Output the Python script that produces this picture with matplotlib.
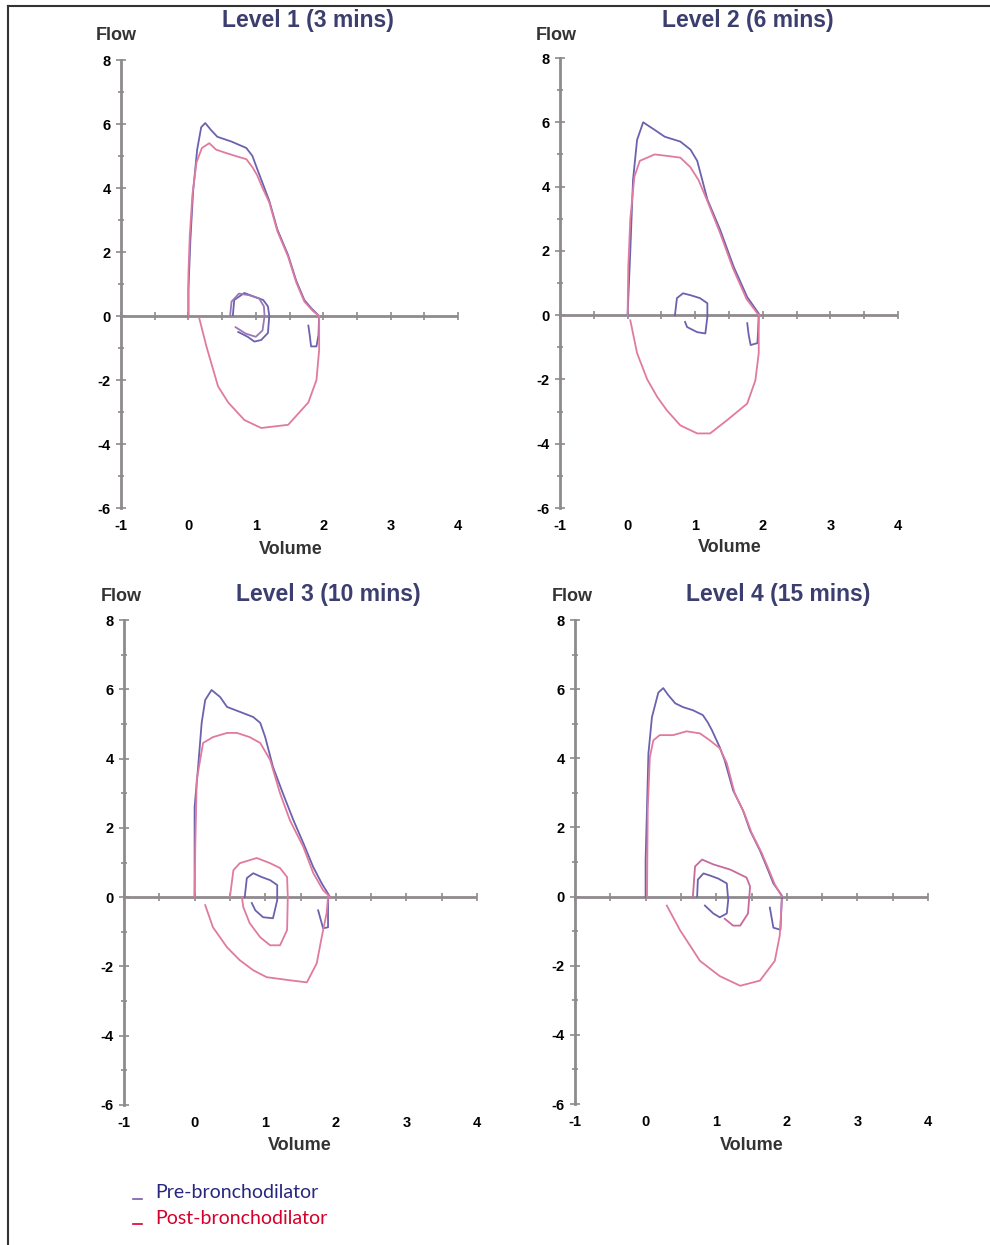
import numpy as np
import matplotlib
matplotlib.use("Agg")
import matplotlib.pyplot as plt
from matplotlib.lines import Line2D

plt.rcParams['axes.unicode_minus'] = False

# ---- data (volume, flow) ----
titles = ["Level 1 (3 mins)", "Level 2 (6 mins)", "Level 3 (10 mins)", "Level 4 (15 mins)"]

# level 1
l1_pre_x = [0, 0, 0.03, 0.07, 0.13, 0.19, 0.25, 0.34, 0.43, 0.64, 0.86, 0.95, 1.02, 1.11, 1.2, 1.32, 1.48, 1.6, 1.72, 1.82, 1.94,
            1.93, 1.9, 1.82, 1.8, 1.78]
l1_pre_y = [0, 0.81, 2.4, 3.9, 5.2, 5.9, 6.03, 5.8, 5.6, 5.45, 5.25, 5.0, 4.6, 4.1, 3.6, 2.7, 1.9, 1.1, 0.5, 0.25, 0,
            -0.6, -0.95, -0.95, -0.6, -0.3]
l1_post_x = [0, 0, 0.02, 0.06, 0.12, 0.2, 0.31, 0.41, 0.55, 0.7, 0.86, 0.95, 1.02, 1.1, 1.2, 1.32, 1.48, 1.6, 1.72, 1.85, 1.94]
l1_post_y = [0, 1.3, 2.5, 3.8, 4.8, 5.25, 5.4, 5.2, 5.1, 5.0, 4.9, 4.65, 4.4, 4.0, 3.55, 2.65, 1.85, 1.05, 0.45, 0.15, 0]
l1_insp_x = [0.16, 0.27, 0.44, 0.59, 0.83, 1.08, 1.48, 1.78, 1.9, 1.94, 1.94]
l1_insp_y = [-0.06, -0.97, -2.2, -2.7, -3.25, -3.5, -3.4, -2.7, -2.0, -1.06, 0]
l1_tid_pre_x = [0.66, 0.68, 0.83, 0.98, 1.11, 1.18, 1.2, 1.18, 1.08, 0.98, 0.88, 0.74]
l1_tid_pre_y = [0.03, 0.5, 0.72, 0.6, 0.5, 0.3, 0, -0.53, -0.75, -0.8, -0.65, -0.5]
l1_tid_post_x = [0.62, 0.64, 0.75, 0.9, 1.05, 1.12, 1.13, 1.1, 1.0, 0.85, 0.7]
l1_tid_post_y = [0.03, 0.45, 0.7, 0.65, 0.55, 0.3, 0, -0.45, -0.65, -0.55, -0.35]

# level 2
l2_pre_x = [0, 0.02, 0.04, 0.08, 0.14, 0.23, 0.41, 0.55, 0.78, 0.93, 1.03, 1.18, 1.37, 1.57, 1.77, 1.94, 1.94,
            1.93, 1.92, 1.82, 1.79, 1.77]
l2_pre_y = [0, 1.0, 2.0, 4.2, 5.45, 6.0, 5.75, 5.55, 5.4, 5.15, 4.8, 3.6, 2.65, 1.5, 0.56, 0.05, 0,
            -0.5, -0.87, -0.93, -0.6, -0.25]
l2_post_x = [0, 0.01, 0.04, 0.1, 0.18, 0.4, 0.6, 0.78, 0.93, 1.05, 1.18, 1.36, 1.56, 1.76, 1.94]
l2_post_y = [0, 1.5, 3.0, 4.3, 4.8, 5.0, 4.95, 4.9, 4.6, 4.2, 3.55, 2.6, 1.45, 0.5, 0]
l2_insp_x = [0.04, 0.14, 0.29, 0.44, 0.58, 0.78, 1.03, 1.22, 1.47, 1.77, 1.89, 1.94, 1.94]
l2_insp_y = [-0.16, -1.18, -2.0, -2.55, -2.96, -3.43, -3.68, -3.68, -3.27, -2.75, -2.03, -1.18, 0]
l2_tid_pre_x = [0.7, 0.73, 0.82, 0.93, 1.07, 1.18, 1.18, 1.15, 1.03, 0.88, 0.85]
l2_tid_pre_y = [0, 0.53, 0.68, 0.62, 0.53, 0.37, -0.05, -0.57, -0.53, -0.37, -0.21]
l2_tid_post_x = []
l2_tid_post_y = []

# level 3
l3_pre_x = [0, 0, 0.0, 0.05, 0.1, 0.15, 0.24, 0.36, 0.46, 0.64, 0.83, 0.93, 1.0, 1.11, 1.25, 1.4, 1.54, 1.68, 1.8, 1.92,
            1.89, 1.89, 1.82, 1.75]
l3_pre_y = [0, 1.16, 2.6, 3.76, 5.03, 5.69, 5.98, 5.78, 5.49, 5.35, 5.2, 5.03, 4.62, 3.76, 3.0, 2.22, 1.56, 0.87, 0.4, 0,
            0, -0.87, -0.9, -0.38]
l3_post_x = [0, 0.01, 0.03, 0.12, 0.26, 0.46, 0.6, 0.78, 0.93, 1.07, 1.21, 1.35, 1.54, 1.68, 1.82, 1.92]
l3_post_y = [0, 1.5, 3.38, 4.45, 4.62, 4.74, 4.74, 4.62, 4.45, 3.96, 3.0, 2.22, 1.45, 0.7, 0.2, 0]
l3_insp_x = [0.15, 0.26, 0.46, 0.64, 0.83, 1.02, 1.35, 1.59, 1.73, 1.8, 1.87, 1.89]
l3_insp_y = [-0.23, -0.87, -1.45, -1.82, -2.11, -2.31, -2.4, -2.46, -1.91, -1.16, -0.46, 0]
l3_tid_pre_x = [0.71, 0.74, 0.83, 0.95, 1.07, 1.17, 1.17, 1.11, 0.97, 0.86, 0.81]
l3_tid_pre_y = [0, 0.55, 0.69, 0.58, 0.49, 0.35, -0.09, -0.61, -0.58, -0.38, -0.17]
l3_tid_post_x = [0.5, 0.55, 0.64, 0.88, 1.07, 1.21, 1.31, 1.32, 1.31, 1.21, 1.07, 0.93, 0.78, 0.69, 0.67]
l3_tid_post_y = [0, 0.78, 0.98, 1.13, 0.98, 0.84, 0.58, 0, -0.95, -1.39, -1.39, -1.16, -0.75, -0.29, 0]

# level 4
l4_pre_x = [0, 0, 0.04, 0.09, 0.18, 0.25, 0.32, 0.42, 0.53, 0.67, 0.81, 0.88, 0.94, 1.05, 1.12, 1.24, 1.38, 1.48, 1.62,
            1.72, 1.81, 1.93, 1.93, 1.91, 1.81, 1.76]
l4_pre_y = [0, 1.05, 4.14, 5.19, 5.9, 6.03, 5.83, 5.59, 5.48, 5.39, 5.25, 5.04, 4.81, 4.32, 3.94, 3.07, 2.49, 1.91, 1.33,
            0.84, 0.38, 0.03, 0, -0.96, -0.9, -0.32]
l4_post_x = [0.02, 0.03, 0.06, 0.11, 0.2, 0.39, 0.58, 0.77, 0.91, 1.05, 1.15, 1.26, 1.4, 1.5, 1.64, 1.74, 1.83, 1.93]
l4_post_y = [0, 2.5, 4.03, 4.52, 4.67, 4.67, 4.78, 4.72, 4.52, 4.29, 3.86, 3.0, 2.4, 1.85, 1.28, 0.8, 0.35, 0]
l4_insp_x = [0.3, 0.49, 0.77, 1.05, 1.34, 1.62, 1.83, 1.9, 1.93]
l4_insp_y = [-0.26, -0.98, -1.86, -2.3, -2.58, -2.43, -1.86, -1.13, -0.1]
l4_tid_pre_x = [0.73, 0.74, 0.82, 0.91, 1.03, 1.15, 1.17, 1.15, 1.05, 0.96, 0.84]
l4_tid_pre_y = [0, 0.49, 0.67, 0.61, 0.52, 0.38, -0.1, -0.49, -0.6, -0.49, -0.26]
l4_tid_post_x = [0.67, 0.7, 0.8, 0.96, 1.2, 1.43, 1.48, 1.45, 1.34, 1.24, 1.12]
l4_tid_post_y = [0, 0.87, 1.07, 0.93, 0.78, 0.55, 0.29, -0.49, -0.84, -0.84, -0.64]

x_ticks = [-1, 0, 1, 2, 3, 4]
y_ticks = [-6, -4, -2, 0, 2, 4, 6, 8]

pre_col = '#6a62ae'
post_col = '#e07a9f'
axis_col = '#8e8a8e'
title_col = '#3b3e6e'

panels = [
    dict(pre=(l1_pre_x, l1_pre_y), post=(l1_post_x, l1_post_y), insp=(l1_insp_x, l1_insp_y),
         tpre=(l1_tid_pre_x, l1_tid_pre_y), tpost=(l1_tid_post_x, l1_tid_post_y), tpost_col='#9a78b8'),
    dict(pre=(l2_pre_x, l2_pre_y), post=(l2_post_x, l2_post_y), insp=(l2_insp_x, l2_insp_y),
         tpre=(l2_tid_pre_x, l2_tid_pre_y), tpost=(l2_tid_post_x, l2_tid_post_y), tpost_col=post_col),
    dict(pre=(l3_pre_x, l3_pre_y), post=(l3_post_x, l3_post_y), insp=(l3_insp_x, l3_insp_y),
         tpre=(l3_tid_pre_x, l3_tid_pre_y), tpost=(l3_tid_post_x, l3_tid_post_y), tpost_col=post_col),
    dict(pre=(l4_pre_x, l4_pre_y), post=(l4_post_x, l4_post_y), insp=(l4_insp_x, l4_insp_y),
         tpre=(l4_tid_pre_x, l4_tid_pre_y), tpost=(l4_tid_post_x, l4_tid_post_y), tpost_col='#c86a9a'),
]

# axes rectangles (fig fraction) and text positions in pixels
W, H = 990, 1245
rects = [[121, 60, 458, 508], [560, 58, 898, 508], [124, 620, 477, 1105], [575, 620, 928, 1104]]
title_pos = [(308, 20), (748, 20), (328, 594), (778, 594)]
flow_pos = [(116, 36), (556, 35), (121, 596), (572, 596)]
vol_pos = [(291, 549), (730, 548), (300, 1146), (752, 1145)]

fig = plt.figure(figsize=(9.9, 12.45), dpi=100)

for i, p in enumerate(panels):
    x0, y0, x1, y1 = rects[i]
    ax = fig.add_axes([x0 / W, 1 - y1 / H, (x1 - x0) / W, (y1 - y0) / H])
    ax.set_xlim(-1, 4)
    ax.set_ylim(-6, 8)
    for s in ['top', 'right', 'bottom']:
        ax.spines[s].set_visible(False)
    ax.spines['left'].set_color(axis_col)
    ax.spines['left'].set_linewidth(2)
    ax.set_yticks(y_ticks)
    ax.set_yticks(np.arange(-6, 9, 1), minor=True)
    ax.tick_params(axis='y', which='both', direction='inout', color=axis_col, width=1.2)
    ax.tick_params(axis='y', which='major', length=7, pad=4, labelsize=10.5)
    ax.tick_params(axis='y', which='minor', length=5)
    ax.set_xticks(x_ticks)
    ax.tick_params(axis='x', length=0, pad=8, labelsize=10.5)
    for lab in ax.get_xticklabels() + ax.get_yticklabels():
        lab.set_fontweight('bold')
        lab.set_fontfamily('Liberation Sans')

    # horizontal zero axis with its own ticks
    ax.axhline(0, color=axis_col, lw=2, zorder=1)
    xt = np.arange(-1, 4.01, 0.5)
    ax.plot(xt, np.zeros_like(xt), '|', color=axis_col, ms=6, mew=1.2, zorder=1, clip_on=False)

    ax.plot(*p['pre'], color=pre_col, lw=1.3, zorder=3)
    ax.plot(*p['post'], color=post_col, lw=1.3, zorder=3)
    ax.plot(*p['insp'], color=post_col, lw=1.3, zorder=3)
    ax.plot(*p['tpre'], color=pre_col, lw=1.3, zorder=3)
    if len(p['tpost'][0]):
        ax.plot(*p['tpost'], color=p['tpost_col'], lw=1.3, zorder=3)

    fig.text(title_pos[i][0] / W, 1 - title_pos[i][1] / H, titles[i], ha='center', va='center',
             fontsize=16.5, fontweight='bold', color=title_col, family='Liberation Sans')
    fig.text(flow_pos[i][0] / W, 1 - flow_pos[i][1] / H, 'Flow', ha='center', va='center',
             fontsize=13, fontweight='bold', color='#333333', family='Liberation Sans')
    fig.text(vol_pos[i][0] / W, 1 - vol_pos[i][1] / H, 'Volume', ha='center', va='center',
             fontsize=13, fontweight='bold', color='#333333', family='Liberation Sans')

# frame lines (left and top edges)
fig.add_artist(Line2D([8 / W, 8 / W], [0, 1 - 6 / H], transform=fig.transFigure, color='#333333', lw=1.5))
fig.add_artist(Line2D([8 / W, 1], [1 - 6 / H, 1 - 6 / H], transform=fig.transFigure, color='#333333', lw=1.5))

# legend
fig.add_artist(Line2D([133 / W, 142 / W], [1 - 1199 / H] * 2, transform=fig.transFigure, color='#7a5aa8', lw=1.2))
fig.text(155 / W, 1 - 1193 / H, 'Pre-bronchodilator', color='#27277f', fontsize=14, va='center', family='Lato')
fig.add_artist(Line2D([133 / W, 142 / W], [1 - 1224 / H] * 2, transform=fig.transFigure, color='#d4002a', lw=1.2))
fig.text(155 / W, 1 - 1218 / H, 'Post-bronchodilator', color='#d4002a', fontsize=14, va='center', family='Lato')

fig.savefig('out.png', dpi=100)
